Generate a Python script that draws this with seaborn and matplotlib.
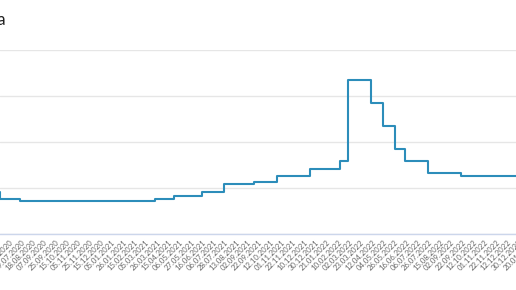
import numpy as np
import pandas as pd
import matplotlib
matplotlib.use("Agg")
import matplotlib.pyplot as plt
import matplotlib.dates as mdates
import seaborn as sns

# ---- data ----
rate_dates = ["2020-04-27", "2020-06-22", "2020-07-27", "2021-03-22", "2021-04-26",
              "2021-06-15", "2021-07-26", "2021-09-13", "2021-10-25", "2021-12-20",
              "2022-02-14", "2022-02-28", "2022-04-11", "2022-05-04", "2022-05-27",
              "2022-06-14", "2022-07-25", "2022-09-19", "2023-02-01"]
rates = [5.5, 4.5, 4.25, 4.5, 5.0, 5.5, 6.5, 6.75, 7.5, 8.5, 9.5, 20, 17, 14, 11,
         9.5, 8, 7.5, 7.5]

tick_labels = ["09.07.2020", "29.07.2020", "18.08.2020", "07.09.2020", "25.09.2020",
               "15.10.2020", "05.11.2020", "25.11.2020", "15.12.2020", "05.01.2021",
               "26.01.2021", "15.02.2021", "05.03.2021", "26.03.2021", "15.04.2021",
               "06.05.2021", "27.05.2021", "16.06.2021", "06.07.2021", "28.07.2021",
               "13.08.2021", "02.09.2021", "22.09.2021", "12.10.2021", "01.11.2021",
               "22.11.2021", "10.12.2021", "30.12.2021", "21.01.2022", "10.02.2022",
               "02.03.2022", "23.03.2022", "12.04.2022", "04.05.2022", "26.05.2022",
               "16.06.2022", "06.07.2022", "26.07.2022", "15.08.2022", "02.09.2022",
               "22.09.2022", "12.10.2022", "01.11.2022", "22.11.2022", "12.12.2022",
               "30.12.2022", "20.01.2023"]

title = "Key rate of the Bank of Russia"

df = pd.DataFrame({"date": pd.to_datetime(rate_dates), "rate": rates})
tick_dates = pd.to_datetime(tick_labels, format="%d.%m.%Y")
tick_nums = mdates.date2num(tick_dates)
tick_idx = np.arange(len(tick_nums), dtype=float)

# category-like (evenly spaced labels) scale
def fwd(x):
    x = np.asarray(x, dtype=float)
    y = np.interp(x, tick_nums, tick_idx)
    lo = x < tick_nums[0]
    hi = x > tick_nums[-1]
    y = np.where(lo, (x - tick_nums[0]) / (tick_nums[1] - tick_nums[0]), y)
    y = np.where(hi, tick_idx[-1] + (x - tick_nums[-1]) / (tick_nums[-1] - tick_nums[-2]), y)
    return y

def inv(y):
    y = np.asarray(y, dtype=float)
    x = np.interp(y, tick_idx, tick_nums)
    lo = y < tick_idx[0]
    hi = y > tick_idx[-1]
    x = np.where(lo, tick_nums[0] + y * (tick_nums[1] - tick_nums[0]), x)
    x = np.where(hi, tick_nums[-1] + (y - tick_idx[-1]) * (tick_nums[-1] - tick_nums[-2]), x)
    return x

sns.set_style("white")
plt.rcParams["font.family"] = ["Lato", "DejaVu Sans"]

W, H = 516, 290
fig = plt.figure(figsize=(W / 100, H / 100), dpi=100)
bottom = (H - 234) / H
top = (H - 49.6) / H
right_px = 545  # plot area continues past the visible crop
ax = fig.add_axes([0, bottom, right_px / W, top - bottom])

sns.lineplot(data=df, x="date", y="rate", ax=ax, color="#2c8dba", linewidth=1.5,
             drawstyle="steps-post", legend=False)

ax.set_xscale("function", functions=(fwd, inv))
ax.set_xticks(tick_nums)
ax.set_xticklabels(tick_labels, rotation=45, ha="right", rotation_mode="anchor",
                   fontsize=5.6, color="#666666")
ax.xaxis.set_minor_locator(matplotlib.ticker.NullLocator())
px_per_tick = 11.31
x0_px = 10.0
ax.set_xlim(float(inv(-x0_px / px_per_tick)),
            float(inv((right_px - x0_px) / px_per_tick)))
ax.set_ylim(0, 24)
ax.set_yticks([0, 6, 12, 18, 24])
ax.set_yticklabels([])
ax.tick_params(axis="y", length=0)
ax.grid(axis="y", color="#e6e6e6", linewidth=1)
ax.grid(axis="x", visible=False)
ax.tick_params(axis="x", length=0, pad=3.5)
for s in ["top", "right", "left"]:
    ax.spines[s].set_visible(False)
ax.spines["bottom"].set_color("#ccd6eb")
ax.spines["bottom"].set_linewidth(1)
ax.set_xlabel("")
ax.set_ylabel("")

fig.text(6 / W, 1 - 20 / H, title, ha="right", va="center", fontsize=12,
         color="#222222")

fig.savefig("out.png", dpi=100)
